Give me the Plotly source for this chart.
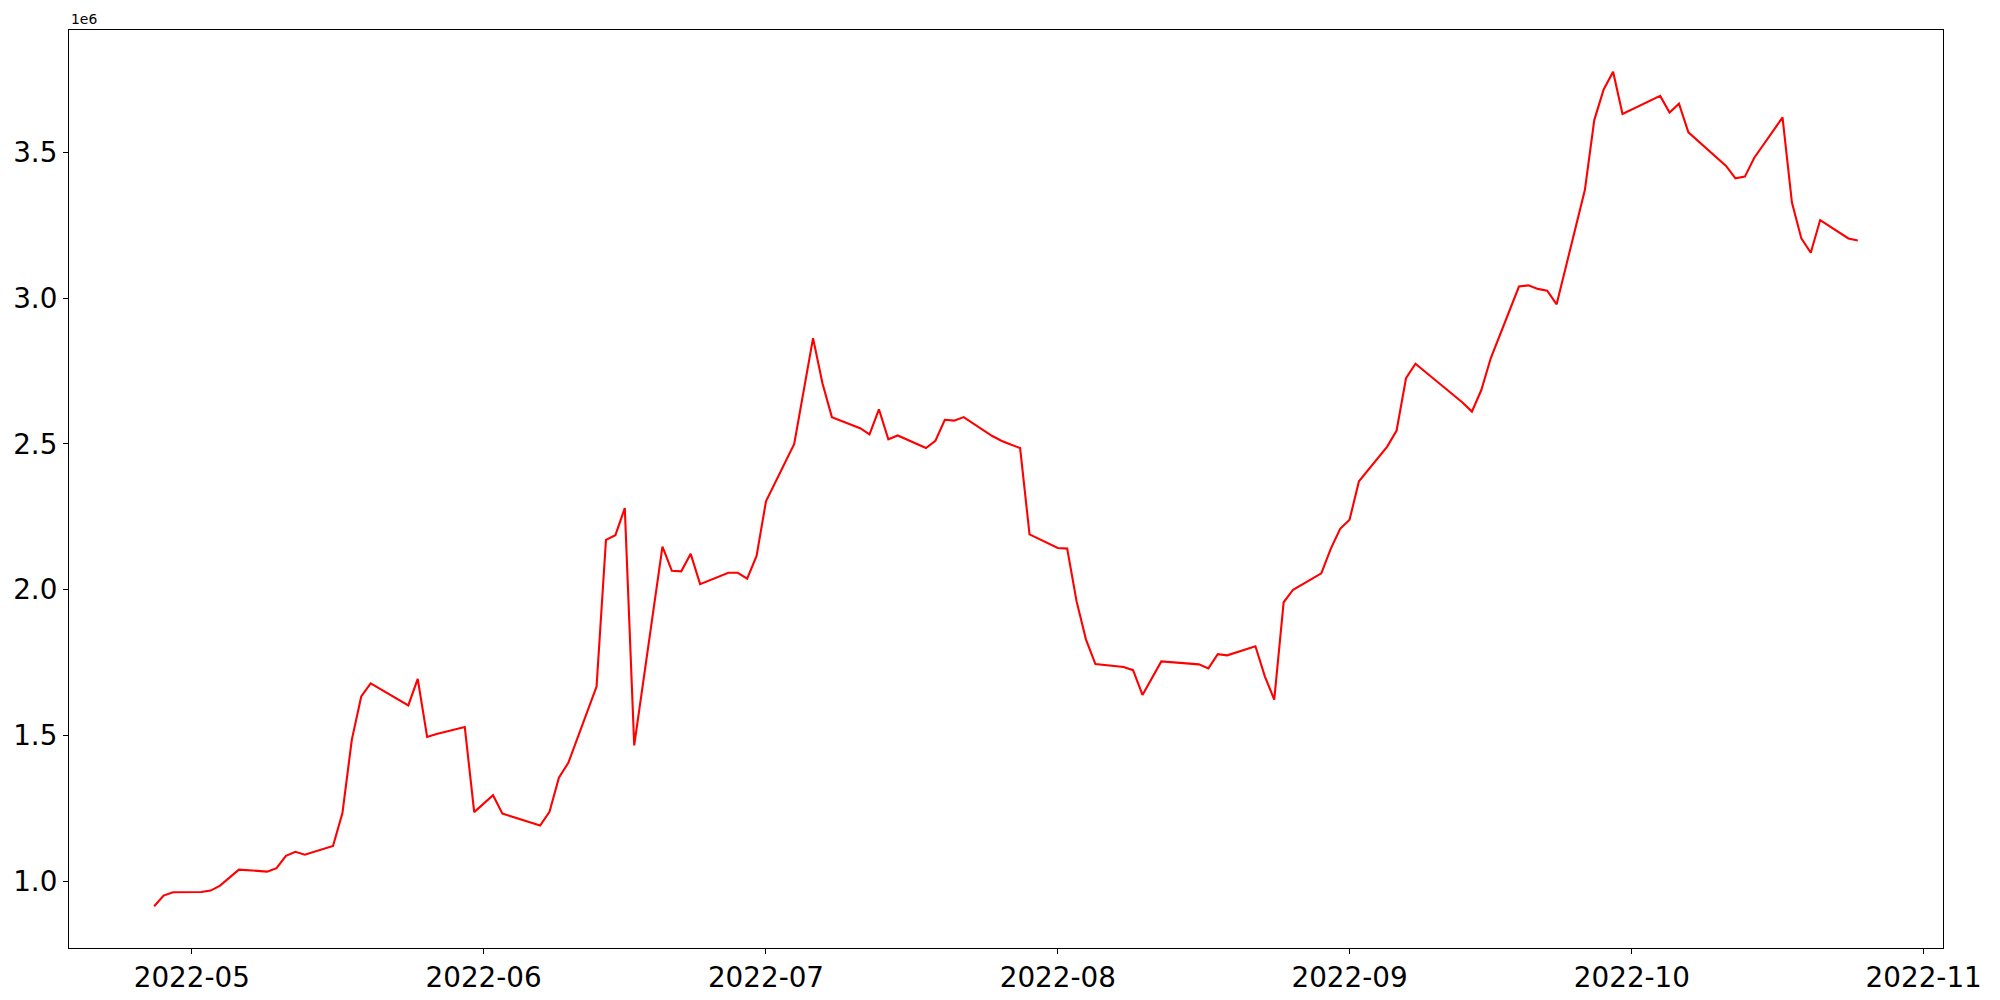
import plotly.graph_objects as go

dates = [
    "2022-04-27", "2022-04-28", "2022-04-29",
    "2022-05-02", "2022-05-03", "2022-05-04", "2022-05-06",
    "2022-05-09", "2022-05-10", "2022-05-11", "2022-05-12", "2022-05-13",
    "2022-05-16", "2022-05-17", "2022-05-18", "2022-05-19", "2022-05-20",
    "2022-05-23", "2022-05-24", "2022-05-25", "2022-05-26", "2022-05-27",
    "2022-05-30", "2022-05-31", "2022-06-02", "2022-06-03",
    "2022-06-07", "2022-06-08", "2022-06-09", "2022-06-10",
    "2022-06-13", "2022-06-14", "2022-06-15", "2022-06-16", "2022-06-17",
    "2022-06-20", "2022-06-21", "2022-06-22", "2022-06-23", "2022-06-24",
    "2022-06-27", "2022-06-28", "2022-06-29", "2022-06-30", "2022-07-01",
    "2022-07-04", "2022-07-05", "2022-07-06", "2022-07-07", "2022-07-08",
    "2022-07-11", "2022-07-12", "2022-07-13", "2022-07-14", "2022-07-15",
    "2022-07-18", "2022-07-19", "2022-07-20", "2022-07-21", "2022-07-22",
    "2022-07-25", "2022-07-26", "2022-07-27", "2022-07-28", "2022-07-29",
    "2022-08-01", "2022-08-02", "2022-08-03", "2022-08-04", "2022-08-05",
    "2022-08-08", "2022-08-09", "2022-08-10", "2022-08-11", "2022-08-12",
    "2022-08-16", "2022-08-17", "2022-08-18", "2022-08-19",
    "2022-08-22", "2022-08-23", "2022-08-24", "2022-08-25", "2022-08-26",
    "2022-08-29", "2022-08-30", "2022-08-31", "2022-09-01", "2022-09-02",
    "2022-09-05", "2022-09-06", "2022-09-07", "2022-09-08",
    "2022-09-13", "2022-09-14", "2022-09-15", "2022-09-16",
    "2022-09-19", "2022-09-20", "2022-09-21", "2022-09-22", "2022-09-23",
    "2022-09-26", "2022-09-27", "2022-09-28", "2022-09-29", "2022-09-30",
    "2022-10-04", "2022-10-05", "2022-10-06", "2022-10-07",
    "2022-10-11", "2022-10-12", "2022-10-13", "2022-10-14",
    "2022-10-17", "2022-10-18", "2022-10-19", "2022-10-20", "2022-10-21",
    "2022-10-24", "2022-10-25",
]

values = [
    914000, 951000, 962000,
    963000, 968000, 985000, 1040000,
    1033000, 1045000, 1087000, 1101000, 1091000,
    1121000, 1234000, 1486000, 1634000, 1679000,
    1622000, 1603000, 1694000, 1495000, 1505000,
    1529000, 1237000, 1295000, 1232000,
    1191000, 1238000, 1355000, 1406000,
    1668000, 2171000, 2187000, 2280000, 1466000,
    2148000, 2065000, 2063000, 2123000, 2019000,
    2058000, 2058000, 2038000, 2116000, 2303000,
    2500000, 2676000, 2863000, 2708000, 2592000,
    2554000, 2533000, 2619000, 2516000, 2529000,
    2486000, 2511000, 2583000, 2580000, 2592000,
    2528000, 2511000, 2498000, 2486000, 2190000,
    2143000, 2141000, 1960000, 1829000, 1745000,
    1735000, 1724000, 1639000, 1697000, 1754000,
    1744000, 1730000, 1779000, 1775000,
    1806000, 1703000, 1623000, 1957000, 2000000,
    2056000, 2140000, 2209000, 2240000, 2372000,
    2491000, 2546000, 2726000, 2775000,
    2642000, 2611000, 2685000, 2794000,
    3040000, 3044000, 3032000, 3026000, 2979000,
    3371000, 3611000, 3716000, 3777000, 3632000,
    3694000, 3637000, 3667000, 3569000,
    3454000, 3411000, 3417000, 3482000,
    3620000, 3328000, 3205000, 3156000, 3268000,
    3205000, 3198000,
]

x_tick_vals = ["2022-05-01", "2022-06-01", "2022-07-01", "2022-08-01",
               "2022-09-01", "2022-10-01", "2022-11-01"]
x_tick_text = ["2022-05", "2022-06", "2022-07", "2022-08",
               "2022-09", "2022-10", "2022-11"]
y_tick_vals = [1.0e6, 1.5e6, 2.0e6, 2.5e6, 3.0e6, 3.5e6]
y_tick_text = ["1.0", "1.5", "2.0", "2.5", "3.0", "3.5"]

fig = go.Figure()
fig.add_trace(go.Scatter(
    x=dates, y=values, mode="lines",
    line=dict(color="red", width=2.1),
    showlegend=False,
))

font_family = "DejaVu Sans"
fig.update_layout(
    width=2000, height=1000,
    margin=dict(l=61, r=65, t=22, b=60, autoexpand=False),
    paper_bgcolor="white", plot_bgcolor="white",
    font=dict(family=font_family, color="black", size=27.8),
    xaxis=dict(
        type="date",
        range=["2022-04-17 22:48", "2022-11-03 01:12"],
        tickvals=x_tick_vals, ticktext=x_tick_text,
        ticks="outside", ticklen=5, tickwidth=1.1, tickcolor="black",
        showline=True, linecolor="black", linewidth=1.1, mirror=True,
        showgrid=False, zeroline=False,
        tickfont=dict(size=27.8, family=font_family),
        automargin=False,
    ),
    yaxis=dict(
        range=[771000, 3920000],
        tickvals=y_tick_vals, ticktext=y_tick_text,
        ticks="outside", ticklen=5, tickwidth=1.1, tickcolor="black",
        showline=True, linecolor="black", linewidth=1.1, mirror=True,
        showgrid=False, zeroline=False,
        tickfont=dict(size=27.8, family=font_family),
        automargin=False,
    ),
    annotations=[dict(
        text="1e6", xref="paper", yref="paper", x=0, y=1,
        xanchor="left", yanchor="bottom", yshift=1,
        showarrow=False, font=dict(size=13.9, family=font_family, color="black"),
    )],
)

fig.write_html("out.html")
